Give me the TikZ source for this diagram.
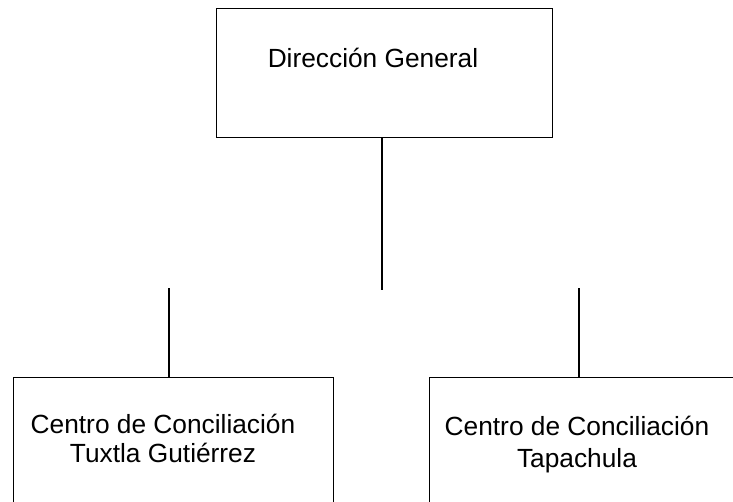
\documentclass[tikz,border=0pt]{standalone}
\usepackage{fontspec}
\setmainfont{Liberation Sans}
\begin{document}
\begin{tikzpicture}[x=1pt, y=-1pt,
   box/.style={draw, line width=1pt, inner sep=0pt},
   label/.style={font=\fontsize{26.3}{29}\selectfont, align=center, anchor=base, inner sep=0pt}]
   \useasboundingbox (0,0) rectangle (733,501);

   \node[box, minimum width=336, minimum height=129] (dg) at (384,72.5) {};
   \node[box, minimum width=320, minimum height=160] (tg) at (173,457) {};
   \node[box, minimum width=320, minimum height=160] (tp) at (589,457) {};

   \node[label] (dgt) at (373,67) {Dirección General};
   \node[label] (tgt) at (163,462) {Centro de Conciliación\\Tuxtla Gutiérrez};
   \node[label, font=\fontsize{26.3}{32}\selectfont] (tpt) at (577,467) {Centro de Conciliación\\Tapachula};

   \coordinate (m) at (382,290);
   \coordinate (l) at (169,288);
   \coordinate (r) at (579,288);

   \draw[line width=1.6pt] (dg.south -| m) -- (m);
   \draw[line width=1.6pt] (l) -- (l |- tg.north);
   \draw[line width=1.6pt] (r) -- (r |- tp.north);

\end{tikzpicture}
\end{document}
